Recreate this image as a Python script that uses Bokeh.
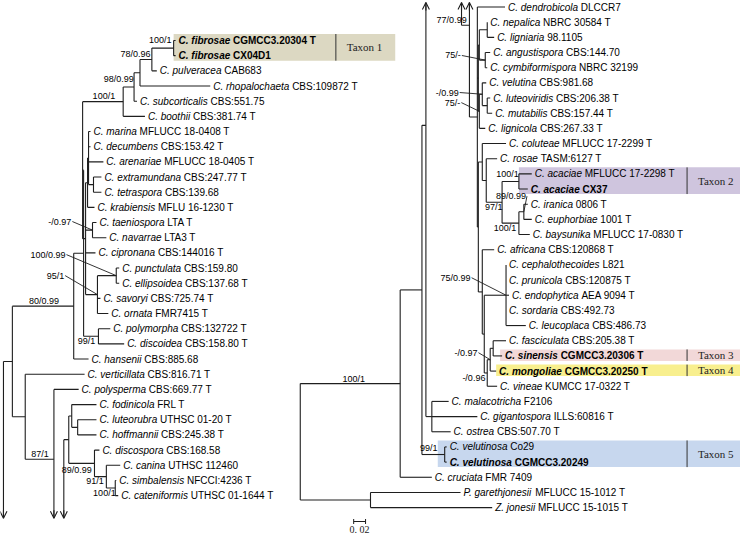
from bokeh.plotting import figure
from bokeh.models import Range1d, Arrow, OpenHead, ColumnDataSource
from bokeh.embed import file_html
from bokeh.resources import INLINE
from bokeh.core.properties import value

# ---------------- tip tables (left panel) ----------------
L_SPECIES = ["C. fibrosae", "C. fibrosae", "C. pulveracea", "C. rhopalochaeta", "C. subcorticalis",
             "C. boothii", "C. marina", "C. decumbens", "C. arenariae", "C. extramundana",
             "C. tetraspora", "C. krabiensis", "C. taeniospora", "C. navarrae", "C. cipronana",
             "C. punctulata", "C. ellipsoidea", "C. savoryi", "C. ornata", "C. polymorpha",
             "C. discoidea", "C. hansenii", "C. verticillata", "C. polysperma", "C. fodinicola",
             "C. luteorubra", "C. hoffmannii", "C. discospora", "C. canina", "C. simbalensis",
             "C. cateniformis"]
L_STRAIN = ["CGMCC3.20304 T", "CX04D1", "CAB683", "CBS:109872 T", "CBS:551.75",
            "CBS:381.74 T", "MFLUCC 18-0408 T", "CBS:153.42 T", "MFLUCC 18-0405 T", "CBS:247.77 T",
            "CBS:139.68", "MFLU 16-1230 T", "LTA T", "LTA3 T", "CBS:144016 T",
            "CBS:159.80", "CBS:137.68 T", "CBS:725.74 T", "FMR7415 T", "CBS:132722 T",
            "CBS:158.80 T", "CBS:885.68", "CBS:816.71 T", "CBS:669.77 T", "FRL T",
            "UTHSC 01-20 T", "CBS:245.38 T", "CBS:168.58", "UTHSC 112460", "NFCCI:4236 T",
            "UTHSC 01-1644 T"]
L_TIPX = [180, 180, 161, 215, 141, 149, 94, 94, 107, 105, 105, 98, 100, 110, 99,
          123, 123, 104, 112, 114, 128, 92, 88, 82, 100, 100, 100, 103, 124, 120, 122]
L_BOLD = [0, 1]

# ---------------- tip tables (right panel) ----------------
R_SPECIES = ["C. dendrobicola", "C. nepalica", "C. ligniaria", "C. angustispora", "C. cymbiformispora",
             "C. velutina", "C. luteoviridis", "C. mutabilis", "C. lignicola", "C. coluteae",
             "C. rosae", "C. acaciae", "C. acaciae", "C. iranica", "C. euphorbiae",
             "C. baysunika", "C. africana", "C. cephalothecoides", "C. prunicola", "C. endophytica",
             "C. sordaria", "C. leucoplaca", "C. fasciculata", "C. sinensis", "C. mongoliae",
             "C. vineae", "C. malacotricha", "C. gigantospora", "C. ostrea", "C. velutinosa",
             "C. velutinosa", "C. cruciata", "P. garethjonesii", "Z. jonesii"]
R_STRAIN = ["DLCCR7", "NBRC 30584 T", "98.1105", "CBS:144.70", "NBRC 32199",
            "CBS:981.68", "CBS:206.38 T", "CBS:157.44 T", "CBS:267.33 T", "MFLUCC 17-2299 T",
            "TASM:6127 T", "MFLUCC 17-2298 T", "CX37", "0806 T", "1001 T",
            "MFLUCC 17-0830 T", "CBS:120868 T", "L821", "CBS:120875 T", "AEA 9094 T",
            "CBS:492.73", "CBS:486.73", "CBS:205.38 T", "CGMCC3.20306 T", "CGMCC3.20250 T",
            "KUMCC 17-0322 T", "F2106", "ILLS:60816 T", "CBS:507.70 T", "Co29",
            "CGMCC3.20249", "FMR 7409", "MFLUCC 15-1012 T", "MFLUCC 15-1015 T"]
R_TIPX = [513, 495, 502, 498, 495, 494, 498, 500, 493, 514, 505, 540, 536, 536, 540,
          538, 502, 514, 514, 517, 514, 534, 514, 510, 504, 505, 456, 485, 458, 454,
          454, 439, 468, 500]
R_BOLD = [12, 23, 24, 30]

# row layout (tip order -> vertical position)
ROW = 15.17
Y0 = {"L": 48.0, "R": 14.5}
ARROW_ROW = {"L": 31.5, "R": -0.3}

# highlighted taxa: panel, first row, last row, box x0, box x1, separator x, label, colour
TAXA = [("L", 0, 1, 178, 402, 342, "Taxon 1", "#dcd8c2"),
        ("R", 11, 12, 527, 751, 697, "Taxon 2", "#cfc5de"),
        ("R", 23, 23, 508, 751, 697, "Taxon 3", "#f2d8d8"),
        ("R", 24, 24, 504, 751, 697, "Taxon 4", "#f8ef8e"),
        ("R", 29, 30, 445, 751, 697, "Taxon 5", "#c7d7ee")]

SCALE_LEN = 0.02          # substitutions / site
PX_PER_UNIT = 600.0

XR = (3, 751)
FIG_W, FIG_H = 740, 534
XSCALE = FIG_W / (XR[1] - XR[0])


def N(x, *ch, sup=None, arrow=False, attach=None):
    return {"x": x, "ch": list(ch), "sup": sup, "arrow": arrow, "attach": attach}


# ---------------- left panel topology ----------------
fib = N(178, 0, 1, sup=("100/1", -13.5, -7.6, False))
n156 = N(156, fib, 2, sup=("78/0.96", -16.5, -5, False))
n144 = N(144, n156, 3)
n138 = N(138, n144, 4, sup=("98/0.99", -15.5, -7.5, False))
n127 = N(127, n138, 5, sup=("100/1", -19.5, -6, False))
g1 = N(91, N(92, 6, 7, 8, N(97, 9, 10)), 11)
g2 = N(96, 12, 13, sup=("-/0.97", -33, -8.6, True))
pe = N(120, 15, 16, sup=("100/0.99", -69, -21, True))
s101 = N(101, pe, 17, 18, sup=("95/1", -42.5, -19, True))
n89 = N(89, g1, g2, 14, s101)
n86 = N(86, n127, n89)
pd = N(102, 19, 20, sup=("99/1", -12, 5, False))
n87 = N(87, n86, pd)
n77 = N(77, n87, 21, sup=("80/0.99", -30, -5, False))
x57l = N(57, 23, arrow=True, attach=27.6, sup=("87/1", -14, -5, False))
n28 = N(28, 22, x57l)
n15 = N(15, n77, n28)
X6L = N(6, n15, arrow=True)
fl = N(75, 24, N(81, 25, 26))
ss = N(119, 29, 30, sup=("100/1", -11, 5, False))
cc = N(110, 28, ss, sup=("91/1", -11.5, 4.5, False))
dd = N(98, 27, cc, sup=("89/0.99", -18, 7, False))
al = N(72, fl, dd)
X67L = N(67, al, arrow=True)

# ---------------- right panel topology ----------------
nepl = N(495, 1, 2)
angc = N(493, 3, 4, sup=("75/-", -32.5, -4.6, True))
a1 = N(487, nepl, angc)
lm = N(495, 6, 7)
vlm = N(490, 5, lm, sup=("-/0.99", -35.5, -1.7, True))
a2 = N(487, vlm, 8, sup=("75/-", -27, -8.7, True))
aa = N(486, a1, a2)
ac = N(527, 11, 12, sup=("100/1", -11.5, -7.4, False))
ie = N(532, 13, 14, sup=("89/0.99", -13, -15.6, True))
ieb = N(527, ie, 15, sup=("100/1", -14, 5, False))
aieb = N(510, ac, ieb, sup=("97/1", -8.5, 5, False))
rr = N(494, 10, aieb)
cr = N(490, 9, rr)
ee = N(514, 17, 18, 19, 20, 21, sup=("75/0.99", -51, -17.5, True))
fs = N(501, 22, 23)
fsm = N(498, fs, 24, sup=("-/0.97", -24.5, -7, True))
fsmv = N(495, fsm, 25, sup=("-/0.96", -13.5, 5, False))
ef = N(492, ee, fsmv)
cl = N(490, 16, ef)
crc = N(486, cr, cl)
m485 = N(485, 0, aa, crc)
X67R = N(477, m485, arrow=True, attach=1.2, sup=("77/0.99", -18, -5, False))
X57R = N(469, X67R, arrow=True)
gg = N(439, 26, 27, 28)
X6R = N(433, gg, arrow=True, attach=7.8)
vel = N(452, 29, 30, sup=("99/1", -16, -7, False))
n429 = N(429, X6R, vel)
n407 = N(407, n429, 31, sup=("100/1", -47, -4.5, False))
pz = N(377, 32, 33)
RROOT = N(306, n407, pz)

PIECES = [("L", X6L), ("L", X67L), ("R", RROOT), ("R", X57R)]
TIPX = {"L": L_TIPX, "R": R_TIPX}

# ---------------- widths (Arial/Helvetica metrics) ----------------
REG = dict(zip(" -./:0123456789", [278, 333, 278, 278, 278] + [556] * 10))
REG.update(dict(zip("ABCDEFGHIJKLMNOPQRSTUVWXYZ",
                    [667, 667, 722, 722, 667, 611, 778, 722, 278, 500, 667, 556, 833, 722, 778, 667,
                     778, 722, 667, 611, 722, 667, 944, 667, 667, 611])))
REG.update(dict(zip("abcdefghijklmnopqrstuvwxyz",
                    [556, 556, 500, 556, 556, 278, 556, 556, 222, 222, 500, 222, 833, 556, 556, 556,
                     556, 333, 500, 278, 556, 500, 722, 500, 500, 500])))
BLD = dict(zip(" -./:0123456789", [278, 333, 278, 278, 333] + [556] * 10))
BLD.update(dict(zip("ABCDEFGHIJKLMNOPQRSTUVWXYZ",
                    [722, 722, 722, 722, 667, 611, 778, 722, 278, 556, 722, 611, 833, 722, 778, 667,
                     778, 722, 667, 611, 722, 667, 944, 667, 667, 611])))
BLD.update(dict(zip("abcdefghijklmnopqrstuvwxyz",
                    [556, 611, 556, 611, 556, 333, 611, 611, 278, 278, 556, 278, 889, 611, 611, 611,
                     611, 389, 556, 333, 611, 556, 778, 556, 556, 500])))


def tw(s, size, bold=False):
    t = BLD if bold else REG
    return sum(t.get(c, 556) for c in s) * size / 1000.0 / XSCALE


def rowy(panel, r):
    return Y0[panel] + ROW * r


segs = {"x0": [], "y0": [], "x1": [], "y1": []}
arrows = []
sups = []


def seg(a, b, c, d):
    segs["x0"].append(a); segs["y0"].append(b); segs["x1"].append(c); segs["y1"].append(d)


def build(node, panel):
    if isinstance(node, int):
        return rowy(panel, node), TIPX[panel][node]
    res = [build(c, panel) for c in node["ch"]]
    ys = [r[0] for r in res]
    x = node["x"]
    ends = list(ys)
    if node["arrow"]:
        ay = rowy(panel, ARROW_ROW[panel])
        ends.append(ay)
        arrows.append((x, ay - 8 if ay > ys[0] else ay + 8, x, ay))
    seg(x, min(ends), x, max(ends))
    for (cy, cx) in res:
        seg(x, cy, cx, cy)
    if node["attach"] is not None:
        y = rowy(panel, node["attach"])
    else:
        y = (ys[0] + ys[-1]) / 2.0
    if node["sup"]:
        txt, dx, dy, lead = node["sup"]
        sups.append((txt, x + dx, y + dy, lead, x, y))
    return y, x


for panel, root in PIECES:
    build(root, panel)

p = figure(width=FIG_W, height=FIG_H, x_range=Range1d(*XR), y_range=Range1d(542, 8),
           output_backend="svg", toolbar_location=None, min_border=0)
p.axis.visible = False
p.grid.visible = False
p.outline_line_color = None
p.background_fill_color = "white"

# highlight boxes
bx = dict(left=[], right=[], top=[], bottom=[], color=[])
for panel, r0, r1, x0, x1, sx, lab, col in TAXA:
    bx["left"].append(x0); bx["right"].append(x1)
    bx["top"].append(rowy(panel, r0) - 6.5); bx["bottom"].append(rowy(panel, r1) + 5)
    bx["color"].append(col)
p.quad(left="left", right="right", top="top", bottom="bottom", fill_color="color",
       line_color=None, source=ColumnDataSource(bx))
tl = dict(x=[], y=[], t=[])
for (panel, r0, r1, x0, x1, sx, lab, col), t, b in zip(TAXA, bx["top"], bx["bottom"]):
    p.segment(x0=sx, y0=t, x1=sx, y1=b, line_color="#333333", line_width=1)
    tl["x"].append(sx + 11); tl["y"].append((t + b) / 2); tl["t"].append(lab)
p.text(x="x", y="y", text="t", source=ColumnDataSource(tl), text_font=value("Liberation Serif"),
       text_font_size="11px", text_baseline="middle", text_align="left", text_color="#222222")

# branches
p.segment(x0="x0", y0="y0", x1="x1", y1="y1", source=ColumnDataSource(segs),
          line_color="#1e1e1e", line_width=1.1)
for (xa, ya, xb, yb) in arrows:
    p.add_layout(Arrow(x_start=xa, y_start=ya, x_end=xb, y_end=yb,
                       end=OpenHead(size=7, line_width=1.1, line_color="#1e1e1e"),
                       line_color="#1e1e1e", line_width=1.1))

# tip labels
groups = {}
for panel, sp, st, bold_idx in [("L", L_SPECIES, L_STRAIN, L_BOLD), ("R", R_SPECIES, R_STRAIN, R_BOLD)]:
    for i, (a, b) in enumerate(zip(sp, st)):
        bold = i in bold_idx
        x = TIPX[panel][i] + 3
        y = rowy(panel, i)
        k1 = "bold italic" if bold else "italic"
        k2 = "bold" if bold else "normal"
        groups.setdefault(k1, dict(x=[], y=[], t=[]))
        groups.setdefault(k2, dict(x=[], y=[], t=[]))
        groups[k1]["x"].append(x); groups[k1]["y"].append(y); groups[k1]["t"].append(a)
        groups[k2]["x"].append(x + tw(a + " ", 10, bold)); groups[k2]["y"].append(y); groups[k2]["t"].append(b)
for style, d in groups.items():
    p.text(x="x", y="y", text="t", source=ColumnDataSource(d), text_font=value("Liberation Sans"),
           text_font_size="10px", text_font_style=style, text_baseline="middle", text_align="left",
           text_color="black")

# support values
sd = dict(x=[], y=[], t=[])
for txt, lx, ly, lead, nx, ny in sups:
    sd["x"].append(lx); sd["y"].append(ly); sd["t"].append(txt)
    if lead:
        p.segment(x0=lx + tw(txt, 9) / 2 + 1, y0=ly, x1=nx, y1=ny, line_color="#1e1e1e", line_width=0.9)
p.text(x="x", y="y", text="t", source=ColumnDataSource(sd), text_font=value("Liberation Sans"),
       text_font_size="9px", text_baseline="middle", text_align="center", text_color="black")

# scale bar
sb_x0, sb_y = 360, 529
sb_len = SCALE_LEN * PX_PER_UNIT
p.segment(x0=[sb_x0, sb_x0, sb_x0 + sb_len], y0=[sb_y, sb_y - 2.5, sb_y - 2.5],
          x1=[sb_x0 + sb_len, sb_x0, sb_x0 + sb_len], y1=[sb_y, sb_y + 2.5, sb_y + 2.5],
          line_color="#1e1e1e", line_width=1)
p.text(x=[sb_x0 + sb_len / 2], y=[sb_y + 8], text=["0. 02"], text_font=value("Liberation Serif"),
       text_font_size="10px", text_baseline="middle", text_align="center", text_color="#222222")

open("out.html", "w").write(file_html(p, INLINE))
